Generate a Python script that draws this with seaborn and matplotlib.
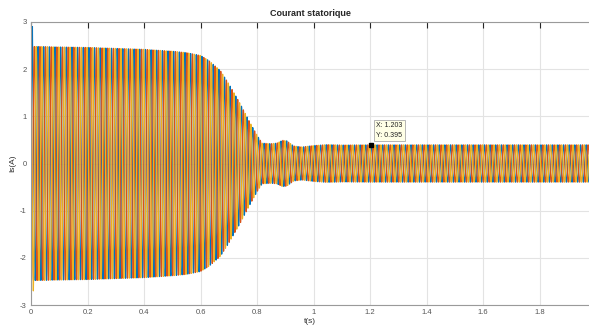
import numpy as np
import pandas as pd
import matplotlib
matplotlib.use("Agg")
import matplotlib.pyplot as plt
import seaborn as sns

# ---- data ----
# amplitude envelope of the stator current (A) versus time (s)
env_t = [0.0, 0.02, 0.1, 0.2, 0.3, 0.4, 0.5, 0.55, 0.6, 0.63, 0.67, 0.70, 0.74,
         0.775, 0.80, 0.818, 0.85, 0.87, 0.89, 0.905, 0.93, 0.96, 1.0, 1.05,
         1.1, 1.2, 1.5, 2.0]
env_amp = [2.48, 2.48, 2.47, 2.46, 2.44, 2.42, 2.38, 2.35, 2.29, 2.18, 1.97,
           1.69, 1.27, 0.87, 0.60, 0.43, 0.42, 0.43, 0.49, 0.48, 0.37, 0.35,
           0.38, 0.40, 0.39, 0.395, 0.395, 0.395]
supply_freq = 50.0           # Hz, from the cycle spacing
phase_names = ["Isa", "Isb", "Isc"]
phase_shift_deg = [0, -120, 120]
# start-up spikes seen just after t=0
start_peaks = {"Isa": 2.9, "Isc": -2.7}
t_end = 1.975
tick_x = [0, 0.2, 0.4, 0.6, 0.8, 1.0, 1.2, 1.4, 1.6, 1.8]
tick_x_labels = ["0", "0.2", "0.4", "0.6", "0.8", "1", "1.2", "1.4", "1.6", "1.8"]
tick_y = [-3, -2, -1, 0, 1, 2, 3]
datatip_x, datatip_y = 1.203, 0.395
colors = ["#0072BD", "#D95319", "#EDB120"]

# ---- build long-form table ----
t = np.linspace(0, t_end, 8000)
amp = np.interp(t, env_t, env_amp)
early = t < 0.0105
rows = []
for name, sh in zip(phase_names, phase_shift_deg):
    y = amp * np.sin(2 * np.pi * supply_freq * t + np.deg2rad(sh))
    if name in start_peaks:
        s = np.sign(start_peaks[name])
        k = np.argmax(np.where(early, s * y, -np.inf))
        y[k] = start_peaks[name]
    rows.append(pd.DataFrame({"t": t, "Is": y, "phase": name}))
df = pd.concat(rows, ignore_index=True)

# ---- plot ----
sns.set_style("white")
plt.rcParams["font.family"] = ["Liberation Sans", "DejaVu Sans"]
plt.rcParams["axes.unicode_minus"] = False

fig = plt.figure(figsize=(5.89, 3.27), dpi=100)
ax = fig.add_axes([31 / 589, 1 - 305 / 327, 1 - 31 / 589, (305 - 22) / 327])

sns.lineplot(data=df, x="t", y="Is", hue="phase", palette=colors,
             estimator=None, sort=False, linewidth=0.9, legend=False, ax=ax)

ax.set_xlim(0, t_end)
ax.set_ylim(-3, 3)
ax.set_xticks(tick_x)
ax.set_xticklabels(tick_x_labels)
ax.set_yticks(tick_y)
ax.grid(True, color="#e3e3e3", linewidth=0.8)
ax.set_axisbelow(True)
for s in ["top", "bottom", "left"]:
    ax.spines[s].set_color("#9a9a9a")
    ax.spines[s].set_linewidth(0.8)
ax.spines["right"].set_visible(False)
ax.tick_params(direction="in", length=4, width=0.8, color="#262626",
               labelsize=5.5, labelcolor="#555555", top=True, pad=3)
ax.set_xlabel("t(s)", fontsize=6, color="#333333", labelpad=1)
ax.set_ylabel("Is(A)", fontsize=6, color="#333333", labelpad=3)
ax.set_title("Courant statorique", fontsize=6.5, fontweight="bold", pad=4)

ax.plot([datatip_x], [datatip_y], marker="s", color="black", markersize=3.5,
        zorder=5)
ax.annotate(f"X: {datatip_x:.3f}\nY: {datatip_y:.3f}", xy=(datatip_x, datatip_y),
            xytext=(4, 4), textcoords="offset points", fontsize=5,
            color="#222222", va="bottom", ha="left", linespacing=1.6,
            bbox=dict(boxstyle="square,pad=0.3", fc="#FFFFE6", ec="#aaaaaa",
                      lw=0.6), zorder=6)

fig.savefig("out.png", dpi=100)
